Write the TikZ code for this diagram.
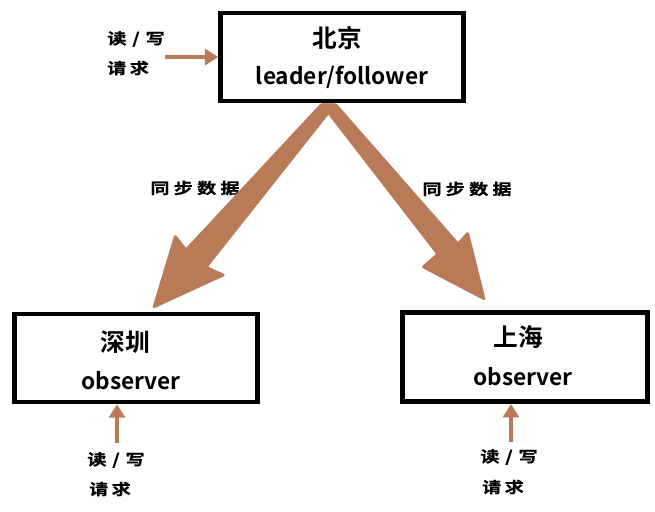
\documentclass[tikz,border=0pt]{standalone}
\usepackage{fontspec}
\setmainfont{Noto Sans CJK SC}[BoldFont={* Bold}]
\newfontfamily\labfont{Noto Sans CJK SC Bold}[FakeBold=0.6]
\usetikzlibrary{arrows.meta}
\definecolor{brn}{RGB}{185,122,87}
\newcommand{\wide}[1]{\scalebox{1.25}[1]{#1}}
\tikzset{
  box/.style={draw=black, line width=3.6pt, minimum width=182pt, minimum height=66pt, inner sep=0pt},
  title/.style={font=\bfseries\fontsize{18.5}{20}\selectfont, inner sep=0pt},
  role/.style={font=\bfseries\fontsize{17}{20}\selectfont, inner sep=0pt},
  lab/.style={font=\labfont\fontsize{11.5}{13}\selectfont, inner sep=0pt},
  small/.style={draw=brn, line width=3.2pt, -{Triangle[length=10pt,width=12pt]}},
  big/.style={fill=brn, draw=brn, line width=1pt, line join=round, rounded corners=1pt}
}
\begin{document}
\begin{tikzpicture}[x=0.75pt,y=-0.75pt]
\useasboundingbox (0,0) rectangle (655,511);
% boxes
\node[box] (bj) at (342,57) {};
\node[box] (sz) at (136,358) {};
\node[box, minimum width=184pt, minimum height=67pt] (sh) at (525,357) {};
% box texts
\node[title] (bjt) at (337,38) {北京};
\node[role] (bjr) at (342,77) {leader/follower};
\node[title] (szt) at (125,342) {深圳};
\node[role] (szr) at (131,381) {observer};
\node[title] (sht) at (518,337) {上海};
\node[role] (shr) at (523,377) {observer};
% request labels
\node[lab] (l1a) at (136,39) {\wide{读\hspace{3.5pt}/\hspace{3.5pt}写}};
\node[lab] (l1b) at (128,68) {\wide{请\hspace{2pt}求}};
\node[lab] (l2a) at (116,460) {\wide{读\hspace{3.5pt}/\hspace{3.5pt}写}};
\node[lab] (l2b) at (110,489) {\wide{请\hspace{2pt}求}};
\node[lab] (l3a) at (509,457) {\wide{读\hspace{3.5pt}/\hspace{3.5pt}写}};
\node[lab] (l3b) at (503,487) {\wide{请\hspace{2pt}求}};
% sync labels
\node[lab] (s1) at (195,188) {\wide{同\hspace{2.5pt}步\hspace{2.5pt}数\hspace{2.5pt}据}};
\node[lab] (s2) at (467,189) {\wide{同\hspace{2.5pt}步\hspace{2.5pt}数\hspace{2.5pt}据}};
% small request arrows
\coordinate (t1) at (165,57);
\coordinate (t2) at (117,443);
\coordinate (t3) at (511,442);
\draw[small] (t1) -- (bj.west);
\draw[small] (t2) -- (sz.south -| t2);
\draw[small] (t3) -- (sh.south -| t3);
% big tapered sync arrows
\path[big] (321,104) -- (336,104) -- (207,267) -- (225,275) -- (153,308) -- (175,235) -- (186,249) -- cycle;
\path[big] (321,104) -- (336,104) -- (458,243) -- (468,232) -- (485,300) -- (422,267) -- (437,254) -- cycle;
\end{tikzpicture}
\end{document}
